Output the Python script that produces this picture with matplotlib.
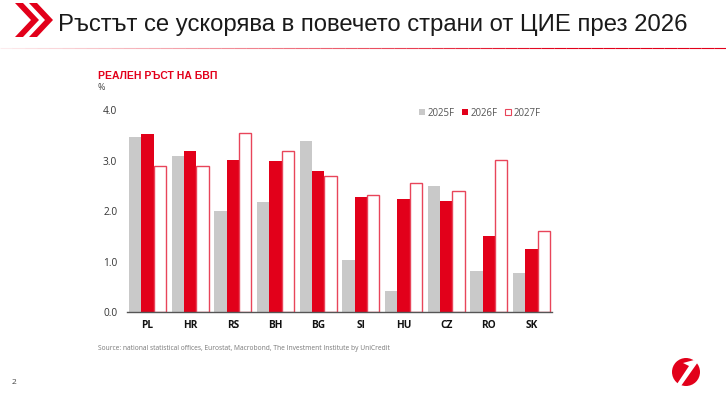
import matplotlib
matplotlib.use("Agg")
import matplotlib.pyplot as plt
from matplotlib.patches import Polygon, Circle, Patch
import numpy as np

# данни
countries = ["PL", "HR", "RS", "BH", "BG", "SI", "HU", "CZ", "RO", "SK"]
g2025 = [3.48, 3.10, 2.01, 2.19, 3.39, 1.03, 0.42, 2.50, 0.82, 0.77]
g2026 = [3.54, 3.19, 3.01, 3.00, 2.79, 2.29, 2.24, 2.20, 1.51, 1.26]
g2027 = [2.90, 2.90, 3.55, 3.20, 2.70, 2.32, 2.57, 2.40, 3.01, 1.60]
series_names = ["2025F", "2026F", "2027F"]
yticks = [0.0, 1.0, 2.0, 3.0, 4.0]

RED = "#E2001A"
GREY = "#C9C9C9"
OS = ['Open Sans', 'DejaVu Sans']

plt.rcParams['font.family'] = ['Liberation Sans', 'DejaVu Sans']

fig = plt.figure(figsize=(7.26, 3.96), dpi=100)
fig.set_facecolor("white")

# заглавие
fig.text(58 / 726, 1 - 25 / 396, "Ръстът се ускорява в повечето страни от ЦИЕ през 2026",
         fontsize=17.2, color="#1a1a1a", va="center", ha="left")

# стрелки горе вляво
ov = fig.add_axes([0, 0, 1, 1], facecolor="none")
ov.set_xlim(0, 726)
ov.set_ylim(396, 0)
ov.axis("off")
for dx in (0, 14):
    ov.add_patch(Polygon([(15 + dx, 3), (23 + dx, 3), (39 + dx, 20), (23 + dx, 37), (15 + dx, 37), (31 + dx, 20)],
                         closed=True, color=RED, lw=0))
# линия под заглавието (избледнява наляво)
xs = np.linspace(0, 726, 60)
for i in range(len(xs) - 1):
    a = min(1.0, 0.08 + 0.92 * i / 45)
    ov.plot(xs[i:i + 2], [48, 48], color=RED, lw=0.8, alpha=a, solid_capstyle="butt")

# лого долу вдясно
ov.add_patch(Circle((686, 372), 14, color=RED, lw=0))
ov.add_patch(Polygon([(694, 360), (698, 362), (681, 386), (677, 384), (689, 366), (683, 363)],
                     closed=True, color="white", lw=0))

# подзаглавие
fig.text(98 / 726, 1 - 76 / 396, "РЕАЛЕН РЪСТ НА БВП", fontsize=7.5, fontweight="bold",
         color=RED, va="center", ha="left", family=['Liberation Sans Narrow', 'Liberation Sans'])
fig.text(98 / 726, 1 - 88 / 396, "%", fontsize=6.5, color="#444444", va="center", ha="left", family=OS)

ax = fig.add_axes([127 / 726, 1 - 312 / 396, 425 / 726, (312 - 110.5) / 396])
x = np.arange(len(countries))
w = 0.29
ax.bar(x - w, g2025, w, color=GREY, lw=0, label=series_names[0])
ax.bar(x, g2026, w, color=RED, lw=0, label=series_names[1])
ax.bar(x + w, g2027, w, facecolor="white", edgecolor="#E8455A", lw=1.0, label=series_names[2])

ax.set_xlim(-0.48, 9.48)
ax.set_ylim(0, 4.0)
ax.set_yticks(yticks)
ax.set_yticklabels([f"{v:.1f}" for v in yticks], fontsize=7.3, color="#333333", family=OS)
ax.set_xticks(x)
ax.set_xticklabels(countries, fontsize=7.3, fontweight="bold", color="#111111", family=OS)
ax.tick_params(axis="y", length=0, pad=7)
ax.tick_params(axis="x", length=0, pad=6)
for s in ("top", "right", "left"):
    ax.spines[s].set_visible(False)
ax.spines["bottom"].set_color("#555555")
ax.spines["bottom"].set_linewidth(1.0)

handles = [Patch(facecolor=GREY, lw=0),
           Patch(facecolor=RED, lw=0),
           Patch(facecolor="white", edgecolor="#E8455A", lw=0.8)]
leg = fig.legend(handles, series_names, loc="center left", bbox_to_anchor=(414 / 726, 1 - 113 / 396),
                 ncol=3, frameon=False, prop={'family': OS, 'size': 6.9}, handlelength=0.6, handleheight=0.6,
                 handletextpad=0.3, columnspacing=0.8, borderpad=0)
for t in leg.get_texts():
    t.set_color("#555555")

# източник
fig.text(98 / 726, 1 - 348 / 396,
         "Source: national statistical offices, Eurostat, Macrobond, The Investment Institute by UniCredit",
         fontsize=4.8, color="#777777", va="center", ha="left", family=OS)
fig.text(12 / 726, 1 - 383 / 396, "2", fontsize=6, color="#444444", va="center", ha="left", family=OS)

fig.savefig("out.png", dpi=100, facecolor="white")
